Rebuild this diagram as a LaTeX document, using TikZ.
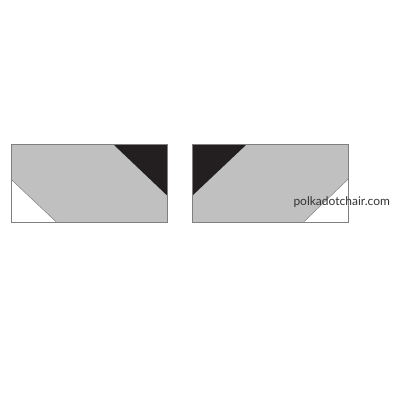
\documentclass[tikz,border=0pt]{standalone}
\usepackage{fontspec}
\setsansfont{Lato}
\definecolor{blockgray}{HTML}{C0C0C0}
\definecolor{blockdark}{HTML}{231F20}
\definecolor{edgegray}{HTML}{808080}
\definecolor{markgray}{HTML}{333333}
\tikzset{
  block/.style={draw=edgegray, line width=0.8pt},
}
\begin{document}
\begin{tikzpicture}[x=1pt, y=-1pt]
        % Fix the page to the reference size
        \useasboundingbox (0,0) rectangle (400,400);

        % Left block: gray body with dark corner top right and white corner bottom left
        \fill[blockgray] (11,144.3) rectangle (167.3,222.3);
        \fill[blockdark] (113.3,144.3) -- (167.3,144.3) -- (167.3,195.7) -- cycle;
        \fill[white] (11,179.3) -- (56.7,222.3) -- (11,222.3) -- cycle;
        \draw[edgegray, line width=0.5pt] (11,179.3) -- (56.7,222.3);
        \draw[block] (11,144.3) rectangle (167.3,222.3);

        % Right block: mirrored corners
        \fill[blockgray] (192.3,144.3) rectangle (348.3,222.3);
        \fill[blockdark] (192.3,144.3) -- (246.7,144.3) -- (192.3,195.7) -- cycle;
        \fill[white] (348.3,179) -- (348.3,222.3) -- (303.3,222.3) -- cycle;
        \draw[edgegray, line width=0.5pt] (348.3,179) -- (303.3,222.3);
        \draw[block] (192.3,144.3) rectangle (348.3,222.3);

        % Site mark
        \node[markgray, font=\sffamily\fontsize{12}{14}\selectfont, anchor=base west, inner sep=0pt]
          (mark) at (293.3,205) {polkadotchair.com};

    \end{tikzpicture}
\end{document}
